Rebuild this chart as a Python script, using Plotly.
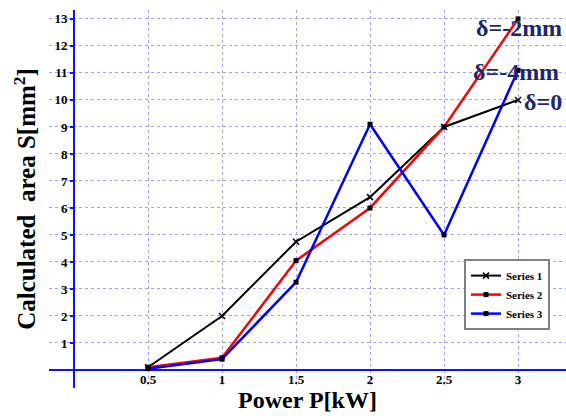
import plotly.graph_objects as go

power = [0.5, 1, 1.5, 2, 2.5, 3]
series1 = [0.1, 2.0, 4.75, 6.4, 9.0, 10.0]   # delta = 0
series2 = [0.1, 0.45, 4.05, 6.0, 9.0, 13.0]  # delta = -2mm
series3 = [0.05, 0.4, 3.25, 9.1, 5.0, 11.1]  # delta = -4mm
series_names = ["Series 1", "Series 2", "Series 3"]
y_ticks = list(range(1, 14))
x_ticks = [0.5, 1, 1.5, 2, 2.5, 3]
x_ticktext = ["0.5", "1", "1.5", "2", "2.5", "3"]
labels = ["δ=-2mm", "δ=-4mm", "δ=0"]
label_x = [2.70, 2.68, 3.03]
label_y = [12.67, 11.04, 9.93]

SERIF = "Liberation Serif"
GRID = "#a0a0ff"
AXIS = "#0a14ff"
LABEL_COL = "#1c2770"

fig = go.Figure()
fig.add_trace(go.Scatter(x=power, y=series1, name=series_names[0], mode="lines+markers",
                         line=dict(color="black", width=2),
                         marker=dict(symbol="x-thin", size=6, color="black",
                                     line=dict(color="black", width=1.5))))
fig.add_trace(go.Scatter(x=power, y=series2, name=series_names[1], mode="lines+markers",
                         line=dict(color="#ff0000", width=2.5),
                         marker=dict(symbol="square", size=5, color="black")))
fig.add_trace(go.Scatter(x=power, y=series3, name=series_names[2], mode="lines+markers",
                         line=dict(color="#0000ff", width=2.5),
                         marker=dict(symbol="square", size=5, color="black")))

for text, xx, yy in zip(labels, label_x, label_y):
    fig.add_annotation(x=xx, y=yy, text=text, showarrow=False,
                       xanchor="left", yanchor="middle",
                       font=dict(family=SERIF, size=24, color=LABEL_COL, weight="bold"))

fig.update_layout(
    width=566, height=416,
    margin=dict(l=49, r=0, t=10, b=28),
    paper_bgcolor="white", plot_bgcolor="white",
    showlegend=True,
    legend=dict(x=0.969, xanchor="right", y=0.341, yanchor="top",
                bgcolor="white", bordercolor="#808080", borderwidth=2,
                font=dict(family=SERIF, size=11, color="black", weight="bold"),
                itemwidth=30, tracegroupgap=0),
    xaxis=dict(range=[-0.169, 3.324], tickvals=x_ticks, ticktext=x_ticktext,
               showgrid=True, gridcolor=GRID, griddash="dot", gridwidth=1,
               zeroline=True, zerolinecolor=AXIS, zerolinewidth=2,
               showline=False, ticks="", automargin=False,
               anchor="free", position=0.0476,
               tickfont=dict(family=SERIF, size=13, color="black", weight="bold"),
               title=dict(text="Power P[kW]", standoff=0,
                          font=dict(family=SERIF, size=24, color="black", weight="bold"))),
    yaxis=dict(range=[-0.667, 13.33], tickvals=y_ticks,
               ticktext=[str(v) for v in y_ticks],
               showgrid=True, gridcolor=GRID, griddash="dot", gridwidth=1,
               zeroline=True, zerolinecolor=AXIS, zerolinewidth=2,
               showline=False, ticks="outside", ticklen=4, tickwidth=2, tickcolor=AXIS,
               automargin=False,
               anchor="free", position=0.0484,
               tickfont=dict(family=SERIF, size=13, color="black", weight="bold"),
               title=dict(text="Calculated  area S[mm<sup>2</sup>]", standoff=10,
                          font=dict(family=SERIF, size=25, color="black", weight="bold"))),
)

fig.write_html("out.html", config={"displayModeBar": False},
               post_script="document.body.style.margin='0';document.body.style.overflow='hidden';")
